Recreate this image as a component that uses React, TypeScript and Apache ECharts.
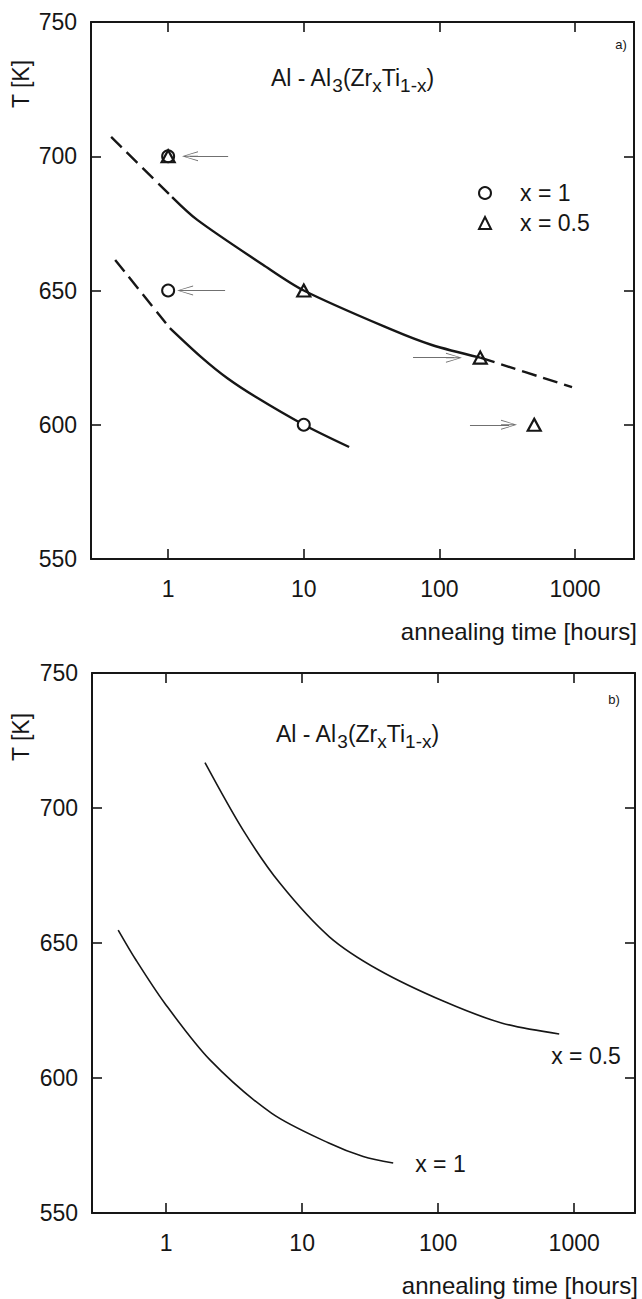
import React, { useEffect, useRef } from "react";
import * as echarts from "echarts";

const FONT = "'Liberation Sans', Arial, Helvetica, sans-serif";
const INK = "#161616";
const ARROW_GREY = "#707070";

// ---------- axes ----------
const xTickLabels = ["1", "10", "100", "1000"];
const yMin = 550;
const yMax = 750;
const yInterval = 50;
const xRangeA = [0.27, 2720];
const xRangeB = [0.285, 2800];

// ---------- panel a) ----------
const upperDashStartA = [[0.38, 707.2], [1.07, 684.8]];
const upperSolidA = [[1.07, 684.8], [1.64, 676.3], [5, 659.6], [10, 650], [45, 635.3], [88, 629.7], [200, 625]];
const upperDashEndA = [[200, 625], [950, 614]];
const lowerDashA = [[0.407, 661.4], [1.03, 636]];
const lowerSolidA = [[1.03, 636], [1.78, 624.9], [2.72, 617.4], [4.38, 610.5], [10, 600], [21.6, 591.7]];
const circlesA = [[1, 700], [1, 650], [10, 600]];
const trianglesA = [[1, 700], [10, 650], [200, 625], [500, 600]];
const arrowsA = [
  [[2.77, 700], [1.45, 700]],
  [[2.63, 650], [1.334, 650]],
  [[63.9, 625], [128, 625]],
  [[168, 600], [326, 600]],
];

// ---------- panel b) ----------
const upperB = [[1.93, 716.8], [3.67, 691.9], [6.87, 672.1], [15.85, 652.3], [36.6, 640], [111, 628.3], [296, 620.3], [776, 616.3]];
const lowerB = [[0.444, 654.8], [0.6, 643.7], [0.976, 627.7], [2.1, 606.7], [5.98, 586.9], [15.85, 575.8], [28.1, 570.9], [46.7, 568.5]];

const titleText = "{m|Al - Al}{s|3}{m|(Zr}{s|x}{m|Ti}{s|1-x}{m|)}";
const ARROW_PATH = "path://M5,0 L10,16 L9,16 L5.5,3.5 L5.5,16 L4.5,16 L4.5,3.5 L1,16 L0,16 Z";

export default function App() {
  const ref = useRef<HTMLDivElement>(null);

  useEffect(() => {
    document.body.style.margin = "0";
    if (!ref.current) return;
    const chart = echarts.init(ref.current, null, { renderer: "svg" });

    const xLabelFmt = (v: number) => {
      const r = Math.round(v * 1000) / 1000;
      return xTickLabels.includes(String(r)) ? String(r) : "";
    };

    const frameLine = { show: true, lineStyle: { color: INK, width: 2 } };
    const tick = { show: true, inside: true, length: 10, lineStyle: { color: INK, width: 1.6 } };

    const bottomX = (gridIndex: number, range: number[]) => ({
      type: "log",
      gridIndex,
      position: "bottom",
      min: range[0],
      max: range[1],
      axisLine: frameLine,
      axisTick: tick,
      splitLine: { show: false },
      axisLabel: { formatter: xLabelFmt, fontSize: 23, fontFamily: FONT, color: INK, margin: 18 },
      name: "annealing time [hours]",
      nameLocation: "end",
      nameGap: 3,
      nameTextStyle: { fontSize: 24, fontFamily: FONT, color: INK, align: "right", verticalAlign: "top", padding: [60, 0, 0, 0] },
    });
    const topX = (gridIndex: number, range: number[]) => ({
      type: "log",
      gridIndex,
      position: "top",
      min: range[0],
      max: range[1],
      axisLine: frameLine,
      axisTick: tick,
      splitLine: { show: false },
      axisLabel: { show: false },
    });
    const leftY = (gridIndex: number) => ({
      type: "value",
      gridIndex,
      position: "left",
      min: yMin,
      max: yMax,
      interval: yInterval,
      axisLine: frameLine,
      axisTick: tick,
      splitLine: { show: false },
      axisLabel: { fontSize: 23, fontFamily: FONT, color: INK, margin: 14 },
    });
    const rightY = (gridIndex: number) => ({
      type: "value",
      gridIndex,
      position: "right",
      min: yMin,
      max: yMax,
      interval: yInterval,
      axisLine: frameLine,
      axisTick: tick,
      splitLine: { show: false },
      axisLabel: { show: false },
    });

    const curve = (name: string, data: number[][], xi: number, yi: number, width: number, dashed: boolean, extra: any = {}) => ({
      type: "line",
      name,
      xAxisIndex: xi,
      yAxisIndex: yi,
      data,
      showSymbol: false,
      symbol: "none",
      smooth: 0.3,
      silent: true,
      lineStyle: { color: INK, width, type: dashed ? [15, 7] : "solid", cap: "butt" },
      z: 2,
      ...extra,
    });

    const richStyles = {
      m: { fontSize: 23, fontFamily: FONT, color: INK, fontWeight: "normal" },
      s: { fontSize: 19, fontFamily: FONT, color: INK, fontWeight: "normal", padding: [16, 0, 0, 0] },
    };

    chart.setOption({
      animation: false,
      backgroundColor: "#ffffff",
      grid: [
        { left: 91, top: 22, width: 543, height: 537, outerBoundsMode: "none" },
        { left: 92, top: 673, width: 543, height: 540, outerBoundsMode: "none" },
      ],
      title: [
        { text: titleText, left: 271, top: 60, padding: 0, textStyle: { fontWeight: "normal", rich: richStyles } },
        { text: titleText, left: 276, top: 716, padding: 0, textStyle: { fontWeight: "normal", rich: richStyles } },
      ],
      legend: {
        orient: "vertical",
        left: 473,
        top: 174,
        itemWidth: 12,
        itemHeight: 12,
        itemGap: 2,
        selectedMode: false,
        data: ["x = 1", "x = 0.5"],
        itemStyle: { color: "#ffffff", borderColor: INK, borderWidth: 2 },
        textStyle: { fontSize: 23, fontFamily: FONT, color: INK, lineHeight: 28, padding: [0, 0, 0, 24] },
      },
      xAxis: [bottomX(0, xRangeA), topX(0, xRangeA), bottomX(1, xRangeB), topX(1, xRangeB)],
      yAxis: [leftY(0), rightY(0), leftY(1), rightY(1)],
      graphic: [
        { type: "text", x: 21, y: 84, rotation: Math.PI / 2, style: { text: "T [K]", fontSize: 23, fontFamily: FONT, fill: INK, align: "center", verticalAlign: "middle" } },
        { type: "text", x: 21, y: 737, rotation: Math.PI / 2, style: { text: "T [K]", fontSize: 23, fontFamily: FONT, fill: INK, align: "center", verticalAlign: "middle" } },
        { type: "text", x: 621, y: 44, style: { text: "a)", fontSize: 13, fontFamily: FONT, fill: INK, align: "center", verticalAlign: "middle" } },
        { type: "text", x: 614, y: 699, style: { text: "b)", fontSize: 13, fontFamily: FONT, fill: INK, align: "center", verticalAlign: "middle" } },
      ],
      series: [
        curve("a upper dashed start", upperDashStartA, 0, 0, 2.4, true),
        curve("a upper solid", upperSolidA, 0, 0, 2.4, false),
        curve("a upper dashed end", upperDashEndA, 0, 0, 2.4, true),
        curve("a lower dashed", lowerDashA, 0, 0, 2.4, true),
        curve("a lower solid", lowerSolidA, 0, 0, 2.4, false),
        {
          type: "lines",
          name: "arrows",
          coordinateSystem: "cartesian2d",
          xAxisIndex: 0,
          yAxisIndex: 0,
          silent: true,
          data: arrowsA.map((c) => ({ coords: c })),
          lineStyle: { color: ARROW_GREY, width: 1, curveness: 0, opacity: 1 },
          symbol: ["none", ARROW_PATH],
          symbolSize: [[10, 16], [10, 16]],
          z: 3,
        },
        {
          type: "scatter",
          name: "x = 1",
          xAxisIndex: 0,
          yAxisIndex: 0,
          data: circlesA,
          symbol: "circle",
          symbolSize: 12,
          itemStyle: { color: "#ffffff", borderColor: INK, borderWidth: 2, opacity: 1 },
          z: 4,
        },
        {
          type: "scatter",
          name: "x = 0.5",
          xAxisIndex: 0,
          yAxisIndex: 0,
          data: trianglesA,
          symbol: "triangle",
          symbolSize: [13, 12],
          itemStyle: { color: "rgba(255,255,255,0)", borderColor: INK, borderWidth: 2.2, opacity: 1 },
          z: 5,
        },
        curve("b upper", upperB, 2, 2, 1.6, false, {
          endLabel: { show: true, formatter: "x = 0.5", fontSize: 23, fontFamily: FONT, color: INK, offset: [-16, 22] },
        }),
        curve("b lower", lowerB, 2, 2, 1.6, false, {
          endLabel: { show: true, formatter: "x = 1", fontSize: 23, fontFamily: FONT, color: INK, offset: [14, 1] },
        }),
      ],
    });

    return () => chart.dispose();
  }, []);

  return <div ref={ref} style={{ width: 642, height: 1299 }} />;
}
